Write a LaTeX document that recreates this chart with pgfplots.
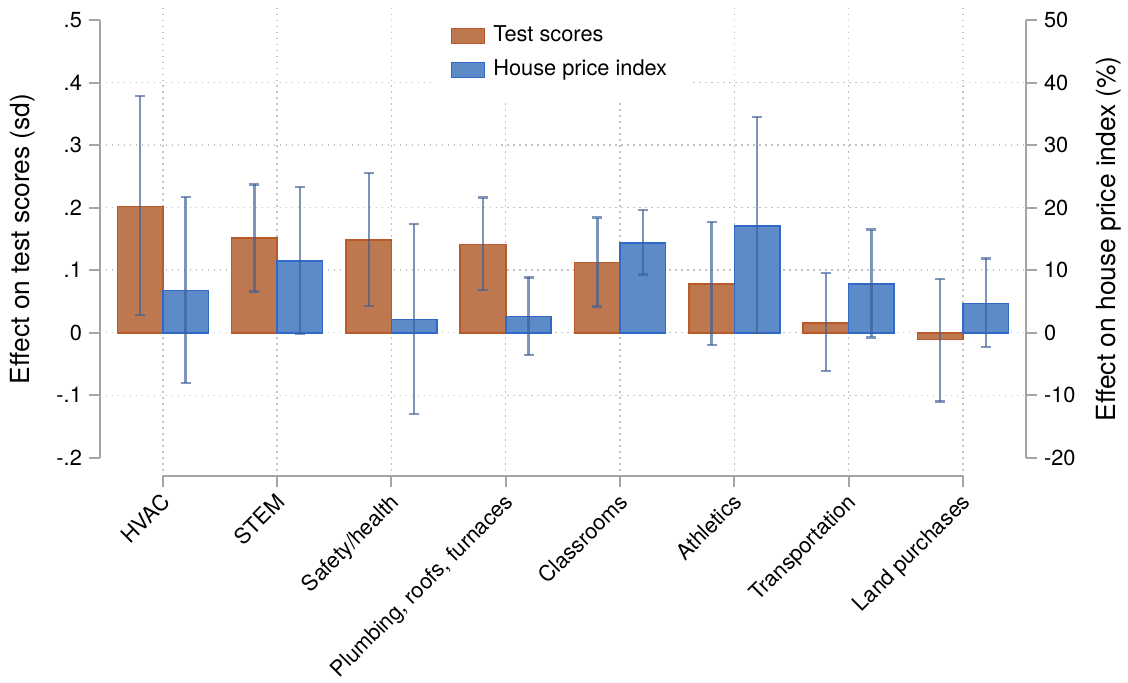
\documentclass[border=0pt]{standalone}
\usepackage{fontspec}
\setmainfont{TeX Gyre Heros}
\usepackage{pgfplots}
\usepackage{pgfplotstable}
\pgfplotsset{compat=1.18}
\definecolor{tsfill}{RGB}{190,120,80}
\definecolor{tsedge}{RGB}{185,90,40}
\definecolor{hpfill}{RGB}{93,139,200}
\definecolor{hpedge}{RGB}{50,105,200}
\definecolor{errc}{RGB}{60,95,150}
\definecolor{axgray}{RGB}{165,165,165}
\definecolor{gridc}{RGB}{195,195,195}

% test scores (sd): estimate, CI upper distance, CI lower distance
\pgfplotstableread{
x y ep em
0 0.202 0.176 0.174
1 0.151 0.086 0.085
2 0.148 0.107 0.105
3 0.141 0.075 0.073
4 0.112 0.072 0.070
5 0.078 0.099 0.098
6 0.016 0.079 0.077
7 -0.011 0.097 0.099
}\testdata

% house price index (%)
\pgfplotstableread{
x y ep em
0 6.76 14.91 14.80
1 11.45 11.87 11.61
2 2.08 15.28 15.07
3 2.56 6.28 6.13
4 14.32 5.28 5.00
5 17.09 17.36 17.14
6 7.83 8.67 8.58
7 4.69 7.18 6.98
}\hpidata

\pgfplotsset{
  common/.style={
    width=463.5pt, height=236pt, scale only axis,
    xmin=-0.551, xmax=7.551, clip=false,
    tick align=outside, major tick length=5.5pt,
    major tick style={draw=axgray, line width=1pt},
    axis line style={draw=none},
    tick label style={font=\fontsize{10.9}{13}\selectfont},
    label style={font=\fontsize{13.2}{16}\selectfont},
    ybar, bar width=0.398,
    legend image code/.code={\draw[#1] (0pt,-3.75pt) rectangle (16.5pt,3.75pt);},
  },
  errstyle/.style={error bars/.cd, y dir=both, y explicit,
    error bar style={errc, opacity=0.65, line width=1.2pt},
    error mark options={errc, opacity=0.65, line width=1.2pt, rotate=90, mark size=2.5pt}},
}

\begin{document}
\begin{tikzpicture}
\begin{axis}[common,
  ymin=-0.2299, ymax=0.524,
  axis x line*=bottom, axis y line*=left,
  xtick={0,...,7},
  xticklabels={HVAC,STEM,Safety/health,{Plumbing, roofs, furnaces},Classrooms,Athletics,Transportation,Land purchases},
  xticklabel style={rotate=45, anchor=north east, inner sep=0.5pt, xshift=-2pt},
  ytick={-0.2,-0.1,0,0.1,0.2,0.3,0.4,0.5},
  yticklabels={-.2,-.1,0,.1,.2,.3,.4,.5},
  xmajorgrids,
  extra y ticks={-0.1,0,0.1,0.2,0.3,0.4},
  extra y tick labels={},
  extra y tick style={ymajorgrids=true, major tick length=0pt},
  grid style={gridc, line width=0.7pt, dash pattern=on 0.7pt off 2.3pt},
  ylabel={Effect on test scores (sd)},
  ylabel style={at={(rel axis cs:-0.0830,0.504)}, anchor=center},
]
\addplot[fill=tsfill, draw=tsedge, line width=0.8pt, bar shift=-0.199, errstyle]
  table[x=x, y=y, y error plus=ep, y error minus=em] {\testdata};
\draw[axgray, line width=1pt] (axis cs:-0.551,-0.2) -- (axis cs:-0.551,0.5);
\draw[axgray, line width=1pt] (axis cs:0,-0.2299) -- (axis cs:7,-0.2299);
\path (rel axis cs:-0.1079,-0.4280) rectangle (rel axis cs:1.1090,1.0106);
\end{axis}
\begin{axis}[common,
  ymin=-22.99, ymax=52.4,
  axis x line=none, axis y line*=right,
  ytick={-20,-10,0,10,20,30,40,50},
  yticklabels={-20,-10,0,10,20,30,40,50},
  ylabel={Effect on house price index (\%)},
  ylabel style={at={(rel axis cs:1.0895,0.504)}, anchor=center, rotate=0},
  legend style={at={(rel axis cs:0.5,1)}, anchor=north, draw=none, fill=white,
    font=\fontsize{10.9}{13}\selectfont, inner xsep=8pt, inner ysep=8pt,
    row sep=2.5pt, nodes={text height=8pt, text depth=2.5pt, inner ysep=2pt, inner xsep=4pt},
    legend cell align=left},
]
\addlegendimage{fill=tsfill, draw=tsedge, line width=0.8pt}
\addlegendentry{Test scores}
\addplot[fill=hpfill, draw=hpedge, line width=0.8pt, bar shift=0.199, errstyle]
  table[x=x, y=y, y error plus=ep, y error minus=em] {\hpidata};
\addlegendentry{House price index}
\draw[axgray, line width=1pt] (axis cs:7.551,-20) -- (axis cs:7.551,50);
\end{axis}
\end{tikzpicture}
\end{document}
